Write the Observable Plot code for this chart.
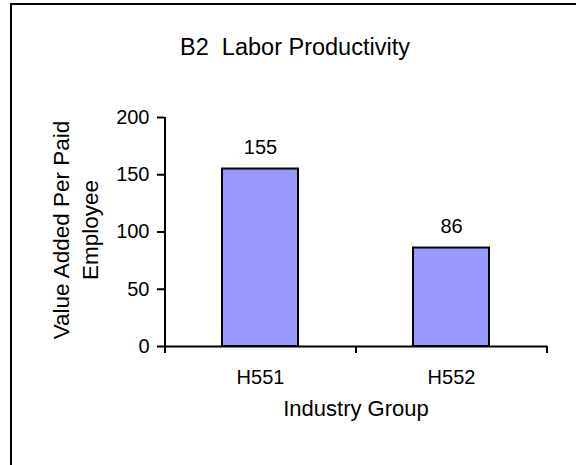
<!DOCTYPE html>
<html>
<head>
<meta charset="utf-8">
<script src="https://cdn.jsdelivr.net/npm/d3@7"></script>
<script src="https://cdn.jsdelivr.net/npm/@observablehq/plot@0.6"></script>
<style>
  body { margin: 0; background: #fff; }
  #wrap { position: relative; width: 576px; height: 465px; overflow: hidden; background: #fff;
          font-family: "Liberation Sans", Arial, sans-serif; color: #000; }
  #border { position: absolute; left: 10px; top: 3px; width: 800px; height: 800px;
            border-left: 2px solid #000; border-top: 2px solid #000; box-sizing: border-box; }
  #title { position: absolute; left: 0; top: 36px; width: 590px; text-align: center;
           font-size: 23.5px; line-height: 23.5px; white-space: pre; }
  #chart { position: absolute; left: 0; top: 0; }
</style>
</head>
<body>
<div id="wrap">
  <div id="border"></div>
  <div id="chart"></div>
  <div id="title"></div>
</div>
<script>
const categories = ["H551", "H552"];
const values = [155, 86];
const yTicks = [0, 50, 100, 150, 200];
const titleText = "B2  Labor Productivity";
const yLabel = "Value Added Per Paid\nEmployee";
const xLabel = "Industry Group";

const data = categories.map((c, i) => ({group: c, value: values[i]}));
document.getElementById("title").textContent = titleText;

const font = "'Liberation Sans', Arial, sans-serif";
const base = {
  width: 576, height: 465,
  marginTop: 117, marginBottom: 119, marginLeft: 164, marginRight: 29,
  style: {fontFamily: font, fontSize: "20px", color: "#000", background: "transparent", overflow: "visible"},
  x: {domain: categories, paddingInner: 0.6, paddingOuter: 0.3, label: null},
  y: {domain: [0, 200], label: null}
};
const bars = Plot.barY(data, {x: "group", y: "value", fill: "#9999FF", stroke: "#000", strokeWidth: 2});

const probe = Plot.plot({...base, axis: null, marks: [bars]});
const half = probe.scale("x").step / 2;
const last = categories[categories.length - 1];

const chart = Plot.plot({
  ...base,
  marks: [
    bars,
    Plot.ruleY([0], {stroke: "#000", strokeWidth: 2}),
    Plot.ruleX([categories[0]], {dx: -half, stroke: "#000", strokeWidth: 2}),
    Plot.ruleX(categories, {x: d => d, y1: 0, y2: 0, insetBottom: -7, dx: -half, stroke: "#000", strokeWidth: 2}),
    Plot.ruleX([last], {x: d => d, y1: 0, y2: 0, insetBottom: -7, dx: half, stroke: "#000", strokeWidth: 2}),
    Plot.axisY({ticks: yTicks, tickSize: 7, tickPadding: 8, strokeWidth: 2, stroke: "#000", label: null, fontSize: 20}),
    Plot.axisX({tickSize: 0, tickPadding: 23, label: null, fontSize: 20}),
    Plot.text(data, {x: "group", y: "value", text: d => String(d.value), lineAnchor: "bottom", dy: -15, fontSize: 20, fill: "#000"}),
    Plot.text([xLabel], {frameAnchor: "bottom", dy: 69, fontSize: 22, fill: "#000"}),
    Plot.text([yLabel], {frameAnchor: "left", textAnchor: "middle", lineAnchor: "middle", rotate: -90, dx: -90, dy: -2, fontSize: 22.5, lineHeight: 1.25, fill: "#000"})
  ]
});
document.getElementById("chart").appendChild(chart);
</script>
</body>
</html>
